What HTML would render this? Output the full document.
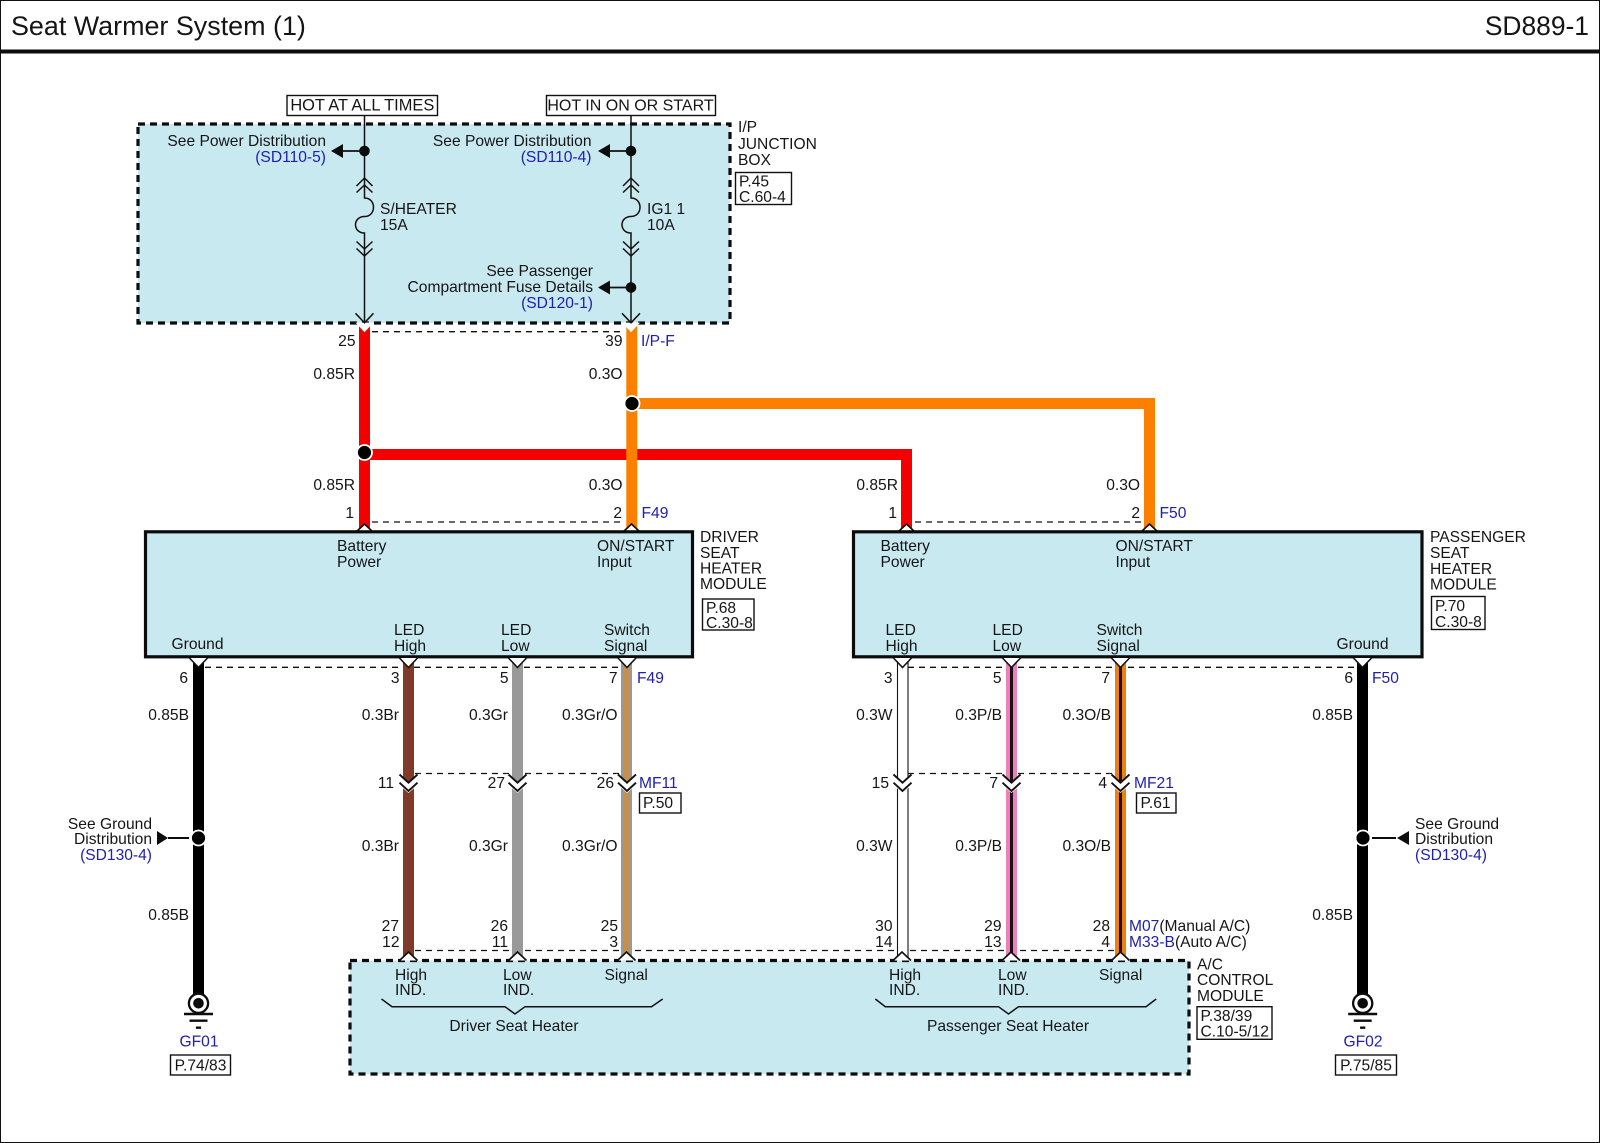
<!DOCTYPE html>
<html><head><meta charset="utf-8"><title>Seat Warmer System (1)</title>
<style>
html,body{margin:0;padding:0;background:#fff}
svg{display:block}
text{font-family:"Liberation Sans",Arial,sans-serif;font-size:15.6px;fill:#151515}
.b{fill:#2020b0}
.e{text-anchor:end}
.c{text-anchor:middle}
.box{fill:#fff;stroke:#111;stroke-width:1.4}
.dash{stroke:#111;stroke-width:1.3;stroke-dasharray:6 5;fill:none}
.line{stroke:#111;stroke-width:1.5;fill:none}
.zone{fill:#c9e9f1;stroke:#0c0c0c;stroke-width:3.2;stroke-dasharray:7 5}
.mod{fill:#c9e9f1;stroke:#0c0c0c;stroke-width:3.2}
</style></head><body>
<svg xmlns="http://www.w3.org/2000/svg" width="1600" height="1143" viewBox="0 0 1600 1143">
<defs>
<g id="dn"><path d="M-9,0 H9 L0,9.5 Z" fill="#fff"/><path d="M-9,0 L0,9.5 L9,0" fill="none" stroke="#111" stroke-width="1.6"/></g>
<g id="up"><path d="M-9,0 H9 L0,-8.5 Z" fill="#fff"/><path d="M-9,0 L0,-8.5 L9,0" fill="none" stroke="#111" stroke-width="1.7"/></g>
<g id="mid"><path d="M-11,-8.5 L0,0.5 L11,-8.5 V1.5 L0,11 L-11,1.5 Z" fill="#fff"/><path d="M-9,-7.5 L0,0.7 L9,-7.5 M-9,0.7 L0,9 L9,0.7" fill="none" stroke="#111" stroke-width="1.9"/></g>
<g id="arr"><path d="M-9,0.3 H9 L0,10 Z" fill="#fff"/><path d="M-9,-9 L0,0.5 L9,-9" fill="none" stroke="#111" stroke-width="1.5"/></g>
<g id="fuse" fill="none" stroke="#111" stroke-width="1.5">
<path d="M-8,186 L0,178 L8,186 M-8,192.5 L0,185 L8,192.5"/>
<path d="M0,178 V198 C12,198 12,216.5 0,216.5 C-12,216.5 -12,233 0,233 V322"/>
<path d="M-8,241.5 L0,249 L8,241.5 M-8,248.5 L0,256 L8,248.5"/>
</g>
<g id="gnd"><circle r="9.6" fill="#fff" stroke="#0c0c0c" stroke-width="2.3"/><circle r="5.3" fill="#0c0c0c"/>
<path d="M-14.5,10.7 H14.5 M-9,17.4 H9 M-2.6,24.4 H2.6" stroke="#0c0c0c" stroke-width="2.4"/></g>
<g id="splice"><circle r="8.4" fill="#fff"/><circle r="6.6" fill="#000"/></g>
</defs>

<rect x="0.5" y="0.5" width="1599" height="1142" fill="#fff" stroke="#111"/>
<rect x="0" y="49.5" width="1600" height="4" fill="#0c0c0c"/>
<text x="11" y="35" style="font-size:26.9px">Seat Warmer System (1)</text>
<text x="1589" y="35" class="e" style="font-size:26.4px">SD889-1</text>

<!-- Junction box -->
<rect x="138" y="124" width="592" height="199" class="zone"/>
<rect x="287" y="95.5" width="150.5" height="20" class="box"/>
<text x="362.3" y="110.5" class="c" style="font-size:16.4px">HOT AT ALL TIMES</text>
<rect x="546.5" y="95.5" width="169" height="20" class="box"/>
<text x="630.5" y="110.5" class="c" style="font-size:16px">HOT IN ON OR START</text>
<path d="M364.5,116 V178 M631,116 V178" class="line"/>
<use href="#fuse" x="364.5"/><use href="#fuse" x="631"/>
<circle cx="364.5" cy="151" r="5.3" fill="#0c0c0c"/><circle cx="631" cy="151" r="5.3" fill="#0c0c0c"/><circle cx="631" cy="287.5" r="5.3" fill="#0c0c0c"/>
<path d="M364,151 H343 M631,151 H610 M631,287.5 H610" class="line" style="stroke-width:1.7"/>
<path d="M343,144 V158 L331,151 Z M610,144 V158 L598,151 Z M610,280.5 V294.5 L598,287.5 Z" fill="#0c0c0c"/>
<text x="326" y="146" class="e">See Power Distribution</text>
<text x="326" y="162" class="e b">(SD110-5)</text>
<text x="591.5" y="146" class="e">See Power Distribution</text>
<text x="591.5" y="162" class="e b">(SD110-4)</text>
<text x="380" y="214">S/HEATER</text><text x="380" y="230">15A</text>
<text x="647" y="214">IG1 1</text><text x="647" y="230">10A</text>
<text x="593" y="276" class="e">See Passenger</text>
<text x="593" y="292" class="e">Compartment Fuse Details</text>
<text x="593" y="308" class="e b">(SD120-1)</text>
<text x="738" y="132">I/P</text><text x="738" y="149">JUNCTION</text><text x="738" y="165">BOX</text>
<rect x="735.5" y="172.5" width="56" height="32" class="box"/>
<text x="739" y="186.5">P.45</text><text x="739" y="202">C.60-4</text>

<!-- Dashed connectors -->
<path d="M372,331.7 H625 M372,522 H625 M915,522 H1144 M205,667.3 H621 M908,667.3 H1357 M415,773.5 H621 M908,773.5 H1115 M415,950.5 H1115" class="dash"/>

<!-- Top wires -->
<rect x="359" y="323" width="11" height="209" fill="#f50000"/>
<rect x="364" y="449" width="548" height="11" fill="#f50000"/>
<rect x="901" y="449" width="11" height="83" fill="#f50000"/>
<rect x="626.3" y="323" width="11" height="209" fill="#fb8000"/>
<rect x="632" y="398" width="523" height="11" fill="#fb8000"/>
<rect x="1144" y="398" width="11" height="134" fill="#fb8000"/>
<use href="#splice" x="364.5" y="452.5"/><use href="#splice" x="632" y="403.5"/>
<use href="#arr" x="364.5" y="322.3"/><use href="#arr" x="631" y="322.3"/>
<use href="#up" x="364.5" y="532.5"/><use href="#up" x="631.5" y="532.5"/><use href="#up" x="906.5" y="532.5"/><use href="#up" x="1149.5" y="532.5"/>

<text x="355.5" y="346" class="e">25</text><text x="622.5" y="346" class="e">39</text><text x="641" y="346" class="b">I/P-F</text>
<text x="355" y="379" class="e">0.85R</text><text x="622.5" y="379" class="e">0.3O</text>
<text x="355" y="490" class="e">0.85R</text><text x="622.5" y="490" class="e">0.3O</text>
<text x="354" y="518" class="e">1</text><text x="622" y="518" class="e">2</text><text x="641.5" y="518" class="b">F49</text>
<text x="898" y="490" class="e">0.85R</text><text x="1140" y="490" class="e">0.3O</text>
<text x="897" y="518" class="e">1</text><text x="1140" y="518" class="e">2</text><text x="1159.5" y="518" class="b">F50</text>

<!-- Modules -->
<rect x="145.5" y="531.8" width="547" height="125" class="mod"/>
<rect x="853.5" y="531.8" width="568.5" height="125" class="mod"/>
<text x="337" y="551">Battery</text><text x="337" y="567">Power</text>
<text x="597" y="551">ON/START</text><text x="597" y="567">Input</text>
<text x="171.5" y="649">Ground</text>
<text x="394" y="635">LED</text><text x="394" y="651">High</text>
<text x="501" y="635">LED</text><text x="501" y="651">Low</text>
<text x="604" y="635">Switch</text><text x="604" y="651">Signal</text>
<text x="880.5" y="551">Battery</text><text x="880.5" y="567">Power</text>
<text x="1115.5" y="551">ON/START</text><text x="1115.5" y="567">Input</text>
<text x="885.5" y="635">LED</text><text x="885.5" y="651">High</text>
<text x="992.5" y="635">LED</text><text x="992.5" y="651">Low</text>
<text x="1096.5" y="635">Switch</text><text x="1096.5" y="651">Signal</text>
<text x="1336.5" y="649">Ground</text>
<text x="700" y="542">DRIVER</text><text x="700" y="558">SEAT</text><text x="700" y="573.5">HEATER</text><text x="700" y="589">MODULE</text>
<rect x="702.5" y="599" width="51.5" height="31" class="box"/>
<text x="706" y="613">P.68</text><text x="706" y="628">C.30-8</text>
<text x="1430" y="542">PASSENGER</text><text x="1430" y="558">SEAT</text><text x="1430" y="574">HEATER</text><text x="1430" y="589.5">MODULE</text>
<rect x="1431.5" y="596.5" width="53.5" height="33" class="box"/>
<text x="1435" y="611">P.70</text><text x="1435" y="627">C.30-8</text>

<!-- Lower wires -->
<rect x="193" y="658" width="11" height="338" fill="#000"/>
<rect x="403" y="658" width="11" height="303" fill="#7f3a28"/>
<rect x="512" y="658" width="11" height="303" fill="#999"/>
<rect x="621" y="658" width="11" height="303" fill="#999"/>
<rect x="623" y="658" width="7" height="303" fill="#c4904f"/>
<rect x="897.5" y="658" width="10.5" height="303" fill="#fff"/>
<path d="M897.5,658 V961 M908,658 V961" stroke="#111" stroke-width="1.1"/>
<rect x="1006" y="658" width="11" height="303" fill="#ee80b8"/>
<rect x="1010" y="658" width="3" height="303" fill="#1a1016"/>
<rect x="1115" y="658" width="11" height="303" fill="#ed8012"/>
<rect x="1119" y="658" width="3" height="303" fill="#1a1016"/>
<rect x="1357" y="658" width="11" height="338" fill="#000"/>

<use href="#dn" x="198.5" y="658"/><use href="#dn" x="408.5" y="658"/><use href="#dn" x="517.5" y="658"/><use href="#dn" x="627" y="658"/>
<use href="#dn" x="902.5" y="658"/><use href="#dn" x="1011.5" y="658"/><use href="#dn" x="1120.5" y="658"/><use href="#dn" x="1362.5" y="658"/>
<use href="#mid" x="408.5" y="782"/><use href="#mid" x="517.5" y="782"/><use href="#mid" x="627" y="782"/>
<use href="#mid" x="902.5" y="782"/><use href="#mid" x="1011.5" y="782"/><use href="#mid" x="1120.5" y="782"/>
<use href="#splice" x="198.5" y="838"/><use href="#splice" x="1363" y="838"/>
<path d="M168,838 H189 M1372,838 H1396" stroke="#0c0c0c" stroke-width="2"/>
<path d="M157,831 L168,838 L157,845 Z M1409,831 L1397,838 L1409,845 Z" fill="#0c0c0c"/>

<text x="188" y="683" class="e">6</text><text x="399.5" y="683" class="e">3</text><text x="508.5" y="683" class="e">5</text><text x="617.5" y="683" class="e">7</text><text x="637" y="683" class="b">F49</text>
<text x="189" y="720" class="e">0.85B</text><text x="399" y="720" class="e">0.3Br</text><text x="508" y="720" class="e">0.3Gr</text><text x="617.5" y="720" class="e">0.3Gr/O</text>
<text x="394" y="788" class="e">11</text><text x="505" y="788" class="e">27</text><text x="614" y="788" class="e">26</text><text x="639" y="788" class="b">MF11</text>
<rect x="639.5" y="793" width="41.5" height="20" class="box"/><text x="643" y="808">P.50</text>
<text x="399" y="851" class="e">0.3Br</text><text x="508" y="851" class="e">0.3Gr</text><text x="617.5" y="851" class="e">0.3Gr/O</text>
<text x="189" y="920" class="e">0.85B</text>
<text x="399" y="931" class="e">27</text><text x="399.5" y="947" class="e">12</text>
<text x="508" y="931" class="e">26</text><text x="508" y="947" class="e">11</text>
<text x="618" y="931" class="e">25</text><text x="618" y="947" class="e">3</text>

<text x="152" y="829" class="e">See Ground</text><text x="152" y="844" class="e">Distribution</text><text x="152" y="860" class="e b">(SD130-4)</text>
<text x="1415" y="829">See Ground</text><text x="1415" y="844">Distribution</text><text x="1415" y="860" class="b">(SD130-4)</text>

<text x="892.5" y="683" class="e">3</text><text x="1001.5" y="683" class="e">5</text><text x="1110" y="683" class="e">7</text><text x="1353" y="683" class="e">6</text><text x="1372" y="683" class="b">F50</text>
<text x="892.5" y="720" class="e">0.3W</text><text x="1002" y="720" class="e">0.3P/B</text><text x="1111" y="720" class="e">0.3O/B</text><text x="1353" y="720" class="e">0.85B</text>
<text x="889" y="788" class="e">15</text><text x="998" y="788" class="e">7</text><text x="1107" y="788" class="e">4</text><text x="1134" y="788" class="b">MF21</text>
<rect x="1136.5" y="793" width="39.5" height="20" class="box"/><text x="1140.5" y="808">P.61</text>
<text x="892.5" y="851" class="e">0.3W</text><text x="1002" y="851" class="e">0.3P/B</text><text x="1111" y="851" class="e">0.3O/B</text>
<text x="1353" y="920" class="e">0.85B</text>
<text x="892.5" y="931" class="e">30</text><text x="892.5" y="947" class="e">14</text>
<text x="1001.5" y="931" class="e">29</text><text x="1001.5" y="947" class="e">13</text>
<text x="1110" y="931" class="e">28</text><text x="1110" y="947" class="e">4</text>
<text x="1129" y="931"><tspan class="b">M07</tspan>(Manual A/C)</text>
<text x="1129" y="947"><tspan class="b">M33-B</tspan>(Auto A/C)</text>

<!-- A/C module -->
<rect x="350" y="960.5" width="839" height="113.5" class="zone"/>
<use href="#up" x="408.5" y="960.5"/><use href="#up" x="517.5" y="960.5"/><use href="#up" x="626.5" y="960.5"/>
<use href="#up" x="902" y="960.5"/><use href="#up" x="1011" y="960.5"/><use href="#up" x="1120.5" y="960.5"/>
<text x="395" y="980">High</text><text x="395" y="995">IND.</text>
<text x="503" y="980">Low</text><text x="503" y="995">IND.</text>
<text x="604.5" y="980">Signal</text>
<text x="889" y="980">High</text><text x="889" y="995">IND.</text>
<text x="998" y="980">Low</text><text x="998" y="995">IND.</text>
<text x="1099" y="980">Signal</text>
<path d="M381.5,999 L392,1006.7 H505 L515,1014 L525,1006.7 H651.5 L662.7,999" class="line"/>
<path d="M875.3,999 L885.3,1006.7 H998.5 L1008.5,1014 L1018.5,1006.7 H1146 L1156.2,999" class="line"/>
<text x="514" y="1031" class="c">Driver Seat Heater</text>
<text x="1008" y="1031" class="c">Passenger Seat Heater</text>
<text x="1197" y="969.5">A/C</text><text x="1197" y="985">CONTROL</text><text x="1197" y="1001">MODULE</text>
<rect x="1197" y="1006.7" width="75" height="32.6" class="box"/>
<text x="1200.5" y="1021">P.38/39</text><text x="1200.5" y="1036.5">C.10-5/12</text>

<!-- Grounds -->
<use href="#gnd" x="198.5" y="1003.3"/><use href="#gnd" x="1362.7" y="1003.3"/>
<text x="199" y="1046.7" class="c b">GF01</text>
<rect x="170.5" y="1055" width="60" height="20" class="box"/><text x="200.5" y="1070.5" class="c">P.74/83</text>
<text x="1363" y="1046.7" class="c b">GF02</text>
<rect x="1335.5" y="1055" width="61" height="20" class="box"/><text x="1366" y="1070.5" class="c">P.75/85</text>
</svg>
</body></html>
